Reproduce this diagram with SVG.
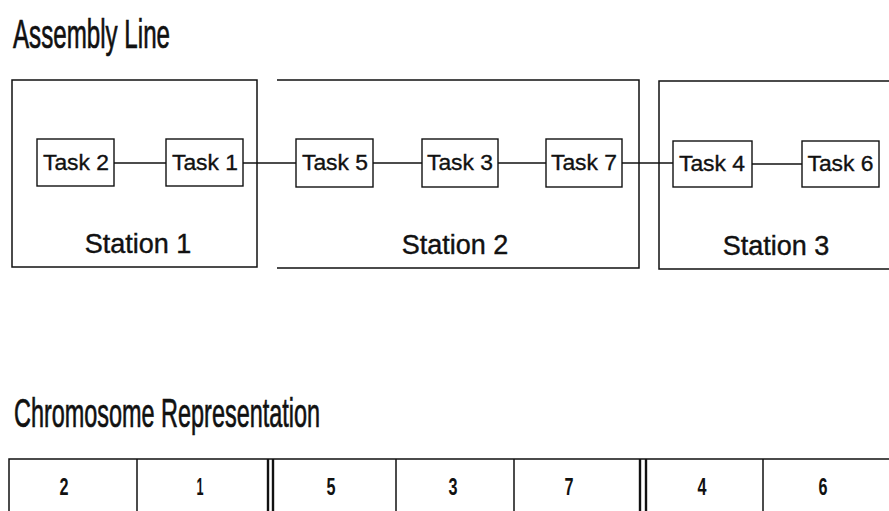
<svg xmlns="http://www.w3.org/2000/svg" width="889" height="511" viewBox="0 0 889 511">
<style>
  .bg { fill: #fff; }
  .title { font-family: "Liberation Sans Narrow", "Liberation Sans", Arial, sans-serif; font-size: 41px; fill: #111; stroke: #111; stroke-width: 0.7; }
  .box { fill: none; stroke: #111; stroke-width: 1.5; }
  .task { fill: #fff; stroke: #111; stroke-width: 1.4; }
  .tlabel { font-family: "Liberation Sans", Arial, sans-serif; font-size: 22px; fill: #111; stroke: #111; stroke-width: 0.35; text-anchor: middle; }
  .slabel { font-family: "Liberation Sans", Arial, sans-serif; font-size: 27px; fill: #111; stroke: #111; stroke-width: 0.4; text-anchor: middle; }
  .conn { stroke: #111; stroke-width: 1.3; fill: none; }
  .grid { stroke: #111; stroke-width: 1.5; fill: none; }
  .dbl { stroke: #111; stroke-width: 2.4; fill: none; }
  .gene { font-family: "Liberation Sans Narrow", "Liberation Sans", Arial, sans-serif; font-weight: bold; font-size: 24px; fill: #111; text-anchor: middle; }
</style>
<rect class="bg" x="0" y="0" width="889" height="511"/>

<text class="title" x="13" y="48" textLength="157" lengthAdjust="spacingAndGlyphs">Assembly Line</text>

<g id="station1">
  <rect class="box" x="12" y="80" width="245" height="187"/>
  <text class="slabel" x="138" y="253">Station 1</text>
</g>
<g id="station2">
  <path class="box" d="M277 80 H639 V268 H277"/>
  <text class="slabel" x="455" y="254">Station 2</text>
</g>
<g id="station3">
  <path class="box" d="M889 81 H659 V269 H889"/>
  <text class="slabel" x="776" y="255">Station 3</text>
</g>

<g id="connectors">
  <line class="conn" x1="114" y1="163" x2="166" y2="163"/>
  <line class="conn" x1="243" y1="163" x2="296" y2="163"/>
  <line class="conn" x1="373" y1="163" x2="422" y2="163"/>
  <line class="conn" x1="498" y1="163" x2="546" y2="163"/>
  <line class="conn" x1="622" y1="163" x2="673" y2="163"/>
  <line class="conn" x1="752" y1="164" x2="802" y2="164"/>
</g>

<g id="task2">
  <rect class="task" x="37" y="139" width="77" height="47"/>
  <text class="tlabel" x="76" y="170" textLength="66" lengthAdjust="spacingAndGlyphs">Task 2</text>
</g>
<g id="task1">
  <rect class="task" x="166" y="139" width="77" height="47"/>
  <text class="tlabel" x="205" y="170" textLength="66" lengthAdjust="spacingAndGlyphs">Task 1</text>
</g>
<g id="task5">
  <rect class="task" x="296" y="139" width="77" height="48"/>
  <text class="tlabel" x="335" y="170" textLength="66" lengthAdjust="spacingAndGlyphs">Task 5</text>
</g>
<g id="task3">
  <rect class="task" x="422" y="139" width="76" height="48"/>
  <text class="tlabel" x="460" y="170" textLength="66" lengthAdjust="spacingAndGlyphs">Task 3</text>
</g>
<g id="task7">
  <rect class="task" x="546" y="139" width="76" height="48"/>
  <text class="tlabel" x="584" y="170" textLength="66" lengthAdjust="spacingAndGlyphs">Task 7</text>
</g>
<g id="task4">
  <rect class="task" x="673" y="141" width="79" height="46"/>
  <text class="tlabel" x="712" y="171" textLength="66" lengthAdjust="spacingAndGlyphs">Task 4</text>
</g>
<g id="task6">
  <rect class="task" x="802" y="141" width="77" height="46"/>
  <text class="tlabel" x="840.5" y="171" textLength="66" lengthAdjust="spacingAndGlyphs">Task 6</text>
</g>

<text class="title" x="14" y="427" textLength="306" lengthAdjust="spacingAndGlyphs">Chromosome Representation</text>

<g id="chromosome">
  <path class="grid" d="M9 511 V459 H889"/>
  <line class="grid" x1="137" y1="459" x2="137" y2="511"/>
  <line class="dbl" x1="268" y1="459" x2="268" y2="511"/>
  <line class="dbl" x1="273" y1="459" x2="273" y2="511"/>
  <line class="grid" x1="396" y1="459" x2="396" y2="511"/>
  <line class="grid" x1="514" y1="459" x2="514" y2="511"/>
  <line class="dbl" x1="640" y1="459" x2="640" y2="511"/>
  <line class="dbl" x1="646" y1="459" x2="646" y2="511"/>
  <line class="grid" x1="763" y1="459" x2="763" y2="511"/>
  <text class="gene" x="64" y="495" textLength="9" lengthAdjust="spacingAndGlyphs">2</text>
  <text class="gene" x="200" y="495" textLength="7" lengthAdjust="spacingAndGlyphs">1</text>
  <text class="gene" x="331" y="495" textLength="9" lengthAdjust="spacingAndGlyphs">5</text>
  <text class="gene" x="453" y="495" textLength="9" lengthAdjust="spacingAndGlyphs">3</text>
  <text class="gene" x="569" y="495" textLength="9" lengthAdjust="spacingAndGlyphs">7</text>
  <text class="gene" x="702" y="495" textLength="9" lengthAdjust="spacingAndGlyphs">4</text>
  <text class="gene" x="823" y="495" textLength="9" lengthAdjust="spacingAndGlyphs">6</text>
</g>
</svg>
